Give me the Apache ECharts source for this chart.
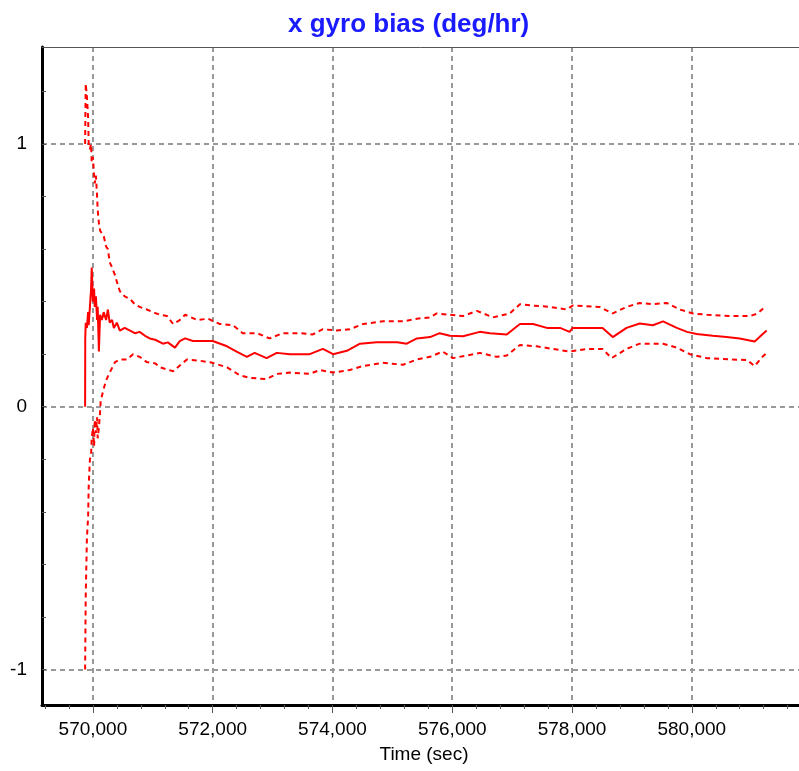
<!DOCTYPE html>
<html>
<head>
<meta charset="utf-8">
<style>html,body{margin:0;padding:0;background:#fff;}#chart{width:799px;height:771px;}</style>
<script src="https://cdn.jsdelivr.net/npm/echarts@6/dist/echarts.min.js"></script>
</head>
<body>
<div id="chart"></div>
<script>
// ---- data ----
const centerTime = [569870,569872,569880,569900,569920,569930,569950,569970,569980,570000,570020,570030,570050,570070,570080,570100,570120,570150,570180,570220,570250,570280,570320,570350,570400,570450,570530,570620,570700,570780,570870,570950,571040,571170,571250,571370,571450,571540,571670,571790,572000,572240,572400,572570,572700,572900,573070,573290,573620,573840,574010,574240,574460,574740,575080,575240,575410,575630,575790,575960,576180,576460,576630,576910,577130,577350,577580,577800,577960,578010,578510,578680,578910,579130,579350,579520,579750,579920,580080,580350,580580,580800,581050,581130,581250];
const centerBias = [0,0.26,0.32,0.30,0.36,0.31,0.38,0.45,0.53,0.40,0.45,0.38,0.42,0.33,0.38,0.21,0.35,0.33,0.36,0.33,0.37,0.32,0.33,0.30,0.32,0.29,0.30,0.29,0.28,0.285,0.27,0.26,0.255,0.24,0.245,0.225,0.25,0.26,0.25,0.25,0.25,0.23,0.21,0.19,0.205,0.185,0.205,0.2,0.2,0.22,0.2,0.213,0.24,0.245,0.245,0.24,0.26,0.265,0.28,0.27,0.268,0.285,0.28,0.275,0.315,0.315,0.3,0.3,0.285,0.3,0.3,0.265,0.3,0.317,0.31,0.325,0.3,0.285,0.277,0.27,0.265,0.26,0.248,0.265,0.29];

const upperTime = [569870,569880,569900,569920,569930,569950,569970,569980,570000,570020,570030,570050,570070,570080,570100,570120,570150,570180,570220,570250,570280,570320,570370,570420,570450,570530,570620,570700,570780,570900,571000,571120,571240,571340,571450,571540,571740,571920,572120,572340,572500,572740,572950,573170,573460,573670,573840,574070,574290,574510,574840,575180,575410,575630,575740,575960,576180,576410,576680,576960,577130,577350,577630,577910,578010,578460,578680,578910,579130,579350,579580,579800,580020,580250,580630,580970,581100,581220];
const upperBias = [1.0,1.23,1.18,1.1,1.0,0.98,1.0,0.93,0.95,0.88,0.85,0.88,0.8,0.75,0.7,0.67,0.67,0.65,0.61,0.6,0.55,0.53,0.5,0.46,0.44,0.42,0.41,0.39,0.38,0.37,0.36,0.35,0.345,0.315,0.33,0.35,0.33,0.335,0.315,0.31,0.28,0.28,0.26,0.28,0.28,0.275,0.295,0.29,0.295,0.315,0.325,0.325,0.335,0.34,0.355,0.35,0.345,0.365,0.34,0.355,0.39,0.385,0.38,0.37,0.385,0.38,0.355,0.38,0.395,0.39,0.395,0.37,0.355,0.35,0.345,0.345,0.355,0.38];

const lowerTime = [569870,569880,569900,569920,569930,569950,569970,569980,570000,570020,570030,570050,570070,570080,570100,570120,570130,570170,570220,570280,570370,570450,570570,570670,570780,570900,571040,571120,571340,571570,571790,572000,572240,572450,572620,572900,573070,573290,573620,573790,574010,574290,574510,574840,575180,575410,575630,575840,576010,576240,576460,576740,576910,577130,577410,577680,577960,578250,578510,578660,578910,579130,579520,579750,579970,580250,580630,580920,581050,581180,581250];
const lowerBias = [-1.0,-0.72,-0.5,-0.42,-0.3,-0.2,-0.18,-0.12,-0.08,-0.15,-0.05,-0.1,-0.04,-0.12,-0.08,-0.02,0.02,0.06,0.1,0.13,0.17,0.18,0.18,0.2,0.19,0.17,0.165,0.15,0.135,0.18,0.175,0.167,0.15,0.12,0.11,0.105,0.125,0.13,0.125,0.14,0.13,0.14,0.155,0.167,0.16,0.18,0.19,0.21,0.185,0.195,0.205,0.19,0.195,0.235,0.23,0.22,0.21,0.22,0.22,0.185,0.22,0.24,0.24,0.225,0.2,0.185,0.18,0.178,0.155,0.19,0.205];

const xLabelValues = [570000,572000,574000,576000,578000,580000];
const xMinorTicks = [569200,569600,570000,570400,570800,571200,571600,572000,572400,572800,573200,573600,574000,574400,574800,575200,575600,576000,576400,576800,577200,577600,578000,578400,578800,579200,579600,580000,580400,580800,581200,581600];
const yLabelValues = [-1,0,1];
const yMinorTicks = [-1.0,-0.8,-0.6,-0.4,-0.2,0,0.2,0.4,0.6,0.8,1.0,1.2];

const xMin = 569150, xMax = 581790;
const yMin = -1.135, yMax = 1.369;

function pairs(t, v){ return t.map((x,i)=>[x, v[i]]); }

const chart = echarts.init(document.getElementById('chart'), null, {renderer:'canvas'});
const gridLine = {show:true, lineStyle:{color:'#999999', width:2, type:[5,4]}};
const font = 'Liberation Sans';
chart.setOption({
  animation:false,
  backgroundColor:'#ffffff',
  title:{
    text:'x gyro bias (deg/hr)', left:283, top:7,
    textStyle:{color:'#1a1aff', fontSize:26, fontWeight:'bold', fontFamily:font}
  },
  grid:{left:42, right:0, top:47, bottom:66, containLabel:false},
  xAxis:[
    {type:'value', min:xMin, max:xMax, position:'bottom',
     name:'Time (sec)', nameLocation:'middle', nameGap:40,
     nameTextStyle:{color:'#000', fontSize:19, fontFamily:font, padding:[0,0,0,7]},
     axisLine:{show:true, onZero:false, lineStyle:{color:'#000', width:3}},
     axisTick:{show:true, customValues:xLabelValues, length:8, lineStyle:{color:'#555', width:1}},
     axisLabel:{show:true, customValues:xLabelValues, margin:15, color:'#000', fontSize:19, fontFamily:font,
       formatter:v=>Number(v).toLocaleString('en-US')},
     splitLine:gridLine},
    {type:'value', min:xMin, max:xMax, position:'bottom',
     axisLine:{show:false, onZero:false},
     axisTick:{show:true, customValues:xMinorTicks, length:4, lineStyle:{color:'#555', width:1}},
     axisLabel:{show:false}, splitLine:{show:false}},
    {type:'value', min:xMin, max:xMax, position:'top',
     axisLine:{show:true, onZero:false, lineStyle:{color:'#555', width:1}},
     axisTick:{show:false}, axisLabel:{show:false}, splitLine:{show:false}}
  ],
  yAxis:[
    {type:'value', min:yMin, max:yMax, position:'left',
     axisLine:{show:true, onZero:false, lineStyle:{color:'#000', width:3}},
     axisTick:{show:false, customValues:yLabelValues},
     axisLabel:{show:true, customValues:yLabelValues, margin:15, color:'#000', fontSize:19, fontFamily:font,
       formatter:v=>String(v)},
     splitLine:gridLine},
    {type:'value', min:yMin, max:yMax, position:'left',
     axisLine:{show:false, onZero:false},
     axisTick:{show:true, inside:true, customValues:yMinorTicks, length:4, lineStyle:{color:'#555', width:1}},
     axisLabel:{show:false}, splitLine:{show:false}}
  ],
  series:[
    {type:'line', name:'upper', data:pairs(upperTime, upperBias), xAxisIndex:0, yAxisIndex:0,
     symbol:'none', lineStyle:{color:'#ff0000', width:2, type:[5,4]}, z:3},
    {type:'line', name:'bias', data:pairs(centerTime, centerBias), xAxisIndex:0, yAxisIndex:0,
     symbol:'none', lineStyle:{color:'#ff0000', width:2}, z:3},
    {type:'line', name:'lower', data:pairs(lowerTime, lowerBias), xAxisIndex:0, yAxisIndex:0,
     symbol:'none', lineStyle:{color:'#ff0000', width:2, type:[5,4]}, z:3}
  ]
});
</script>
</body>
</html>
